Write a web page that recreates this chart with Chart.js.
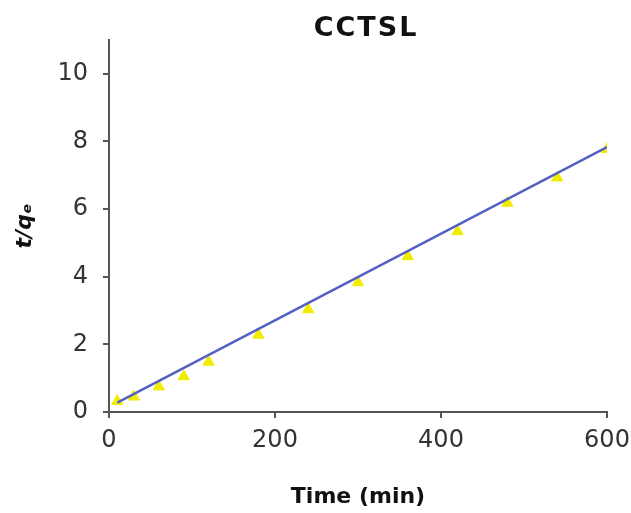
<!DOCTYPE html>
<html>
<head>
<meta charset="utf-8">
<script src="https://cdn.jsdelivr.net/npm/chart.js@4/dist/chart.umd.min.js"></script>
<style>
  html, body { margin: 0; padding: 0; background: #fff; }
  #wrap { width: 631px; height: 513px; }
</style>
</head>
<body>
<div id="wrap"><canvas id="kinetics"></canvas></div>
<script>
// pseudo-second-order plot, CCTSL
const times = [10, 30, 60, 90, 120, 180, 240, 300, 360, 420, 480, 540, 600];
const tOverQ = [0.32, 0.45, 0.75, 1.05, 1.48, 2.28, 3.03, 3.83, 4.6, 5.34, 6.18, 6.93, 7.77];
const fitX = [10, 600];
const fitY = [0.28, 7.83];
const xTicks = [0, 200, 400, 600];
const yTicks = [0, 2, 4, 6, 8, 10];

const FONT = "'DejaVu Sans', 'Liberation Sans', sans-serif";

// title centred over the plot area, like the original
const plotTitle = {
  id: "plotTitle",
  afterDraw(chart) {
    const c = chart.ctx, a = chart.chartArea;
    c.save();
    c.font = "bold 27px " + FONT;
    c.letterSpacing = "2px";
    c.fillStyle = "#111";
    c.textAlign = "center";
    c.textBaseline = "middle";
    c.fillText("CCTSL", (a.left + a.right) / 2 + 8, 29);
    c.restore();
  },
};

document.addEventListener("DOMContentLoaded", function () {
  const ctx = document.getElementById("kinetics");
  new Chart(ctx, {
    type: "scatter",
    data: {
      datasets: [
        {
          label: "fit",
          data: fitX.map((x, i) => ({ x: x, y: fitY[i] })),
          showLine: true,
          borderColor: "#5560c4",
          borderWidth: 2.5,
          pointRadius: 0,
          order: 0,
        },
        {
          label: "t/qe",
          data: times.map((x, i) => ({ x: x, y: tOverQ[i] })),
          pointStyle: "triangle",
          pointRadius: 6.5,
          backgroundColor: "#f0ec00",
          borderColor: "#f0ec00",
          borderWidth: 1,
          order: 1,
        },
      ],
    },
    options: {
      responsive: true,
      maintainAspectRatio: false,
      animation: false,
      layout: { padding: { top: 40, right: 0, left: 0, bottom: 0 } },
      plugins: {
        legend: { display: false },
        tooltip: { enabled: false },
        title: { display: false },
      },
      scales: {
        x: {
          type: "linear",
          min: 0,
          max: 600,
          afterBuildTicks: (s) => { s.ticks = xTicks.map((v) => ({ value: v })); },
          afterFit: (s) => {
            s.height = 101;
            s.paddingLeft = 0;
            s.paddingRight = 24;
          },
          grid: { drawOnChartArea: false, drawTicks: true, tickLength: 6, color: "#555", lineWidth: 2 },
          border: { display: true, color: "#555", width: 2 },
          ticks: { color: "#333", padding: 8, font: { family: FONT, size: 24 } },
          title: {
            display: true,
            text: "Time (min)",
            color: "#111",
            font: { family: FONT, size: 22, weight: "bold" },
            padding: { top: 0, bottom: 3 },
          },
        },
        y: {
          type: "linear",
          min: 0,
          max: 11,
          afterBuildTicks: (s) => { s.ticks = yTicks.map((v) => ({ value: v })); },
          afterFit: (s) => { s.width = 109; },
          grid: { drawOnChartArea: false, drawTicks: true, tickLength: 6, color: "#555", lineWidth: 2 },
          border: { display: true, color: "#555", width: 2 },
          ticks: { color: "#333", padding: 15, font: { family: FONT, size: 24 } },
          title: {
            display: true,
            text: "t/qₑ",
            color: "#111",
            font: { family: FONT, size: 22, weight: "bold", style: "italic" },
            padding: { top: 12, bottom: 0 },
          },
        },
      },
    },
    plugins: [plotTitle],
  });
});
</script>
</body>
</html>
